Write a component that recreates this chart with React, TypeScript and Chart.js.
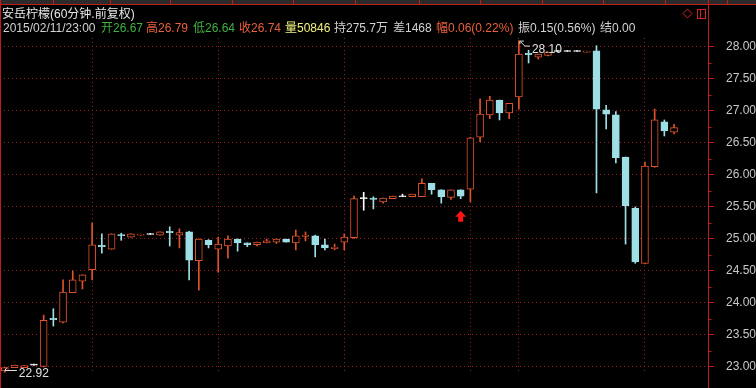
import React, { useEffect, useRef } from 'react';
import { Chart, registerables } from 'chart.js';

Chart.register(...registerables);

// ---- data (60-minute candles, 前复权) ----
const opens = [
  22.94, 22.99, 22.99, 23.03, 23.01, 23.76, 23.70, 24.16, 24.34, 24.52,
  24.90, 24.84, 25.07, 25.03, 25.06, 25.07, 25.06, 25.12, 25.06, 25.11,
  24.66, 24.98, 24.84, 24.89, 25.00, 24.94, 24.91, 24.94, 24.95, 25.00,
  24.94, 25.04, 25.05, 24.91, 24.85, 24.95, 25.02, 25.63, 25.64, 25.58,
  25.63, 25.66, 25.66, 25.66, 25.87, 25.77, 25.65, 25.77, 25.78, 26.59,
  26.94, 27.17, 26.97, 27.22, 27.90, 27.84, 27.87, 27.93, 27.93, 27.93,
  27.92, 27.94, 27.02, 26.94, 26.28, 25.48, 24.62, 26.13, 26.83, 26.67,
];
const highs = [
  22.99, 23.03, 23.02, 23.03, 23.81, 23.91, 24.36, 24.50, 24.44, 25.25,
  25.08, 25.08, 25.09, 25.08, 25.07, 25.07, 25.11, 25.19, 25.16, 25.12,
  25.00, 24.99, 25.03, 25.05, 25.00, 24.94, 24.95, 25.00, 25.00, 25.00,
  25.14, 25.11, 25.06, 25.00, 24.92, 25.08, 25.67, 25.73, 25.66, 25.64,
  25.67, 25.70, 25.70, 25.94, 25.87, 25.77, 25.77, 25.77, 26.59, 27.19,
  27.23, 27.17, 27.12, 28.10, 27.95, 27.89, 27.92, 27.93, 27.93, 27.93,
  27.93, 28.02, 27.09, 26.99, 26.28, 25.50, 26.20, 27.03, 26.86, 26.79,
];
const lows = [
  22.92, 22.99, 22.99, 23.03, 23.00, 23.64, 23.69, 24.16, 24.22, 24.36,
  24.78, 24.84, 24.98, 25.03, 25.06, 25.07, 25.06, 24.89, 24.86, 24.36,
  24.20, 24.86, 24.48, 24.70, 24.81, 24.88, 24.89, 24.94, 24.93, 24.95,
  24.83, 24.97, 24.72, 24.83, 24.83, 24.83, 25.01, 25.45, 25.47, 25.56,
  25.63, 25.66, 25.66, 25.66, 25.70, 25.56, 25.62, 25.63, 25.58, 26.52,
  26.88, 26.86, 26.88, 27.03, 27.75, 27.81, 27.86, 27.93, 27.93, 27.93,
  27.92, 25.72, 26.72, 26.19, 24.92, 24.62, 24.61, 26.12, 26.61, 26.64,
];
const closes = [
  22.99, 23.03, 23.02, 23.03, 23.73, 23.74, 24.17, 24.36, 24.44, 24.91,
  24.88, 25.08, 25.05, 25.08, 25.07, 25.07, 25.11, 25.10, 25.10, 24.67,
  25.00, 24.91, 24.92, 25.00, 24.94, 24.91, 24.95, 24.97, 25.00, 24.95,
  25.05, 25.06, 24.91, 24.86, 24.87, 25.03, 25.63, 25.63, 25.62, 25.64,
  25.67, 25.66, 25.70, 25.87, 25.77, 25.66, 25.77, 25.67, 26.58, 26.95,
  27.17, 26.97, 27.12, 27.89, 27.88, 27.89, 27.92, 27.93, 27.93, 27.93,
  27.93, 27.03, 26.95, 26.27, 25.52, 24.64, 26.14, 26.86, 26.69, 26.74,
];
const blankSlots = 3;
const verticalGridIndices = [9, 22, 35, 48, 53, 66];
const yMin = 22.906;
const yMax = 28.1406;
const yStep = 0.5;
const yMinorStep = 0.25;

const titleText = '安岳柠檬(60分钟.前复权)';
const dateText = '2015/02/11/23:00';
const infoLabels = ['开', '高', '低', '收', '量', '持', '差', '幅', '振', '结'];
const infoValues = ['26.67', '26.79', '26.64', '26.74', '50846', '275.7万', '1468', '0.06(0.22%)', '0.15(0.56%)', '0.00'];
const highLabel = '28.10';
const lowLabel = '22.92';
const signalIndex = 47;

// ---- styles ----
const RED = '#E0532C';
const CYAN = '#9EDFE6';
const WHITE = '#FFFFFF';
const GRID = '#A01E1E';
const AXIS = '#C01C1C';
const TXT = '#D2D2D2';
const GREEN = '#3FB23F';
const ORANGE = '#E8603C';
const YELLOW = '#F2F27E';
const infoColors = [GREEN, ORANGE, GREEN, ORANGE, YELLOW, TXT, TXT, ORANGE, TXT, TXT];
const infoX = [101, 146, 193, 239, 285, 334, 393, 436, 518, 600];
const tabX = [53, 110, 170, 232, 293, 355, 419, 480, 542, 603, 665, 727];
const FONT = "12px 'Liberation Sans', Arial, 'Noto Sans CJK SC', sans-serif";

const dir = (i: number) => (closes[i] > opens[i] ? 1 : closes[i] < opens[i] ? -1 : 0);

const overlayPlugin = {
  id: 'overlay',
  beforeDraw(chart: any) {
    const ctx = chart.ctx;
    ctx.save();
    ctx.fillStyle = '#000';
    ctx.fillRect(0, 0, chart.width, chart.height);
    ctx.restore();
  },
  afterDraw(chart: any) {
    const ctx = chart.ctx as CanvasRenderingContext2D;
    const xs = chart.scales.x;
    const ys = chart.scales.y;
    const area = chart.chartArea;
    ctx.save();

    // top strip
    ctx.fillStyle = '#2B2B2B';
    ctx.fillRect(0, 0, chart.width, 4);
    ctx.strokeStyle = AXIS;
    ctx.lineWidth = 1;
    ctx.beginPath();
    ctx.moveTo(0, 4.5);
    ctx.lineTo(chart.width, 4.5);
    for (const x of tabX) {
      ctx.moveTo(x + 0.5, 0);
      ctx.lineTo(x + 0.5, 4);
    }
    ctx.moveTo(0.5, 0);
    ctx.lineTo(0.5, chart.height);
    const ax = Math.round(area.right) + 0.5;
    ctx.moveTo(ax, 0);
    ctx.lineTo(ax, chart.height);
    ctx.stroke();

    // minor ticks
    ctx.beginPath();
    for (let v = Math.ceil(yMin / yMinorStep) * yMinorStep; v <= yMax; v += yMinorStep) {
      if (Math.abs(v / yStep - Math.round(v / yStep)) < 1e-6) continue;
      const py = Math.round(ys.getPixelForValue(v)) + 0.5;
      ctx.moveTo(ax, py);
      ctx.lineTo(ax + 3, py);
    }
    ctx.stroke();

    // header
    ctx.font = FONT;
    ctx.textBaseline = 'alphabetic';
    ctx.textAlign = 'left';
    ctx.fillStyle = '#E8E8E8';
    ctx.fillText(titleText, 2, 18);
    ctx.fillStyle = TXT;
    ctx.fillText(dateText, 3, 32);
    infoLabels.forEach((lab, k) => {
      ctx.fillStyle = infoColors[k];
      ctx.fillText(lab + infoValues[k], infoX[k], 32);
    });

    // icons top right
    ctx.strokeStyle = '#D02424';
    ctx.beginPath();
    ctx.moveTo(687.5, 9);
    ctx.lineTo(692, 13.5);
    ctx.lineTo(687.5, 18);
    ctx.lineTo(683, 13.5);
    ctx.closePath();
    ctx.stroke();
    ctx.strokeRect(697.5, 9.5, 8, 9);
    ctx.beginPath();
    ctx.moveTo(700.5, 9.5);
    ctx.lineTo(700.5, 18.5);
    ctx.stroke();

    // high / low markers
    let hi = 0;
    let lo = 0;
    highs.forEach((h, i) => { if (h > highs[hi]) hi = i; });
    lows.forEach((l, i) => { if (l < lows[lo]) lo = i; });
    const hx = xs.getPixelForValue(hi);
    const hy = ys.getPixelForValue(highs[hi]);
    ctx.strokeStyle = '#E0E0E0';
    ctx.beginPath();
    ctx.moveTo(hx + 1, hy + 0.5);
    ctx.lineTo(hx + 1, hy + 3.5);
    ctx.moveTo(hx + 1, hy + 0.5);
    ctx.lineTo(hx + 5, hy + 0.5);
    ctx.moveTo(hx + 1.5, hy + 1);
    ctx.lineTo(hx + 6, hy + 5.5);
    ctx.lineTo(hx + 11, hy + 5.5);
    ctx.stroke();
    ctx.fillStyle = '#E0E0E0';
    ctx.fillText(highLabel, hx + 13, hy + 12);

    const lx = xs.getPixelForValue(lo);
    const ly = Math.round(ys.getPixelForValue(lows[lo])) - 1.5;
    ctx.beginPath();
    ctx.moveTo(lx, ly);
    ctx.lineTo(lx + 12, ly);
    ctx.moveTo(lx, ly);
    ctx.lineTo(lx + 2, ly - 3);
    ctx.stroke();
    ctx.fillText(lowLabel, lx + 14, ys.getPixelForValue(lows[lo]) + 5);

    // buy signal arrow
    const sx = xs.getPixelForValue(signalIndex);
    const sy = ys.getPixelForValue(lows[signalIndex]) + 12;
    ctx.fillStyle = '#FF1414';
    ctx.beginPath();
    ctx.moveTo(sx, sy);
    ctx.lineTo(sx + 5.5, sy + 6);
    ctx.lineTo(sx + 2.5, sy + 6);
    ctx.lineTo(sx + 2.5, sy + 11);
    ctx.lineTo(sx - 2.5, sy + 11);
    ctx.lineTo(sx - 2.5, sy + 6);
    ctx.lineTo(sx - 5.5, sy + 6);
    ctx.closePath();
    ctx.fill();

    ctx.restore();
  },
};

export default function App() {
  const ref = useRef<HTMLCanvasElement>(null);
  useEffect(() => {
    const n = opens.length;
    const labels = Array.from({ length: n + blankSlots }, (_, i) => String(i + 1));
    const bodyBg = opens.map((_, i) => (dir(i) > 0 ? '#000000' : dir(i) < 0 ? CYAN : WHITE));
    const bodyBorder = opens.map((_, i) => (dir(i) > 0 ? RED : dir(i) < 0 ? CYAN : WHITE));
    const chart = new Chart(ref.current as HTMLCanvasElement, {
      type: 'bar',
      data: {
        labels,
        datasets: [
          {
            data: opens.map((o, i) => [o, closes[i]]) as any,
            backgroundColor: bodyBg,
            borderColor: bodyBorder,
            borderWidth: 1,
            borderSkipped: false,
            barThickness: 7,
            minBarLength: 1,
            grouped: false,
            order: 0,
          } as any,
          {
            data: lows.map((l, i) => [l, highs[i]]) as any,
            backgroundColor: bodyBorder,
            borderWidth: 0,
            barThickness: 1,
            minBarLength: 1,
            grouped: false,
            order: 1,
          } as any,
        ],
      },
      options: {
        animation: false,
        responsive: false,
        devicePixelRatio: 1,
        events: [],
        layout: { padding: { top: 38, bottom: 15, left: 0, right: 0 } },
        plugins: { legend: { display: false }, tooltip: { enabled: false }, title: { display: false } },
        scales: {
          x: {
            type: 'category',
            offset: true,
            grid: {
              offset: false,
              drawTicks: false,
              lineWidth: 1,
              color: (c: any) => (verticalGridIndices.includes(c.index) ? GRID : 'rgba(0,0,0,0)'),
            },
            border: { display: false, dash: [1, 3] },
            ticks: { display: false, autoSkip: false, padding: 0 },
            afterFit: (s: any) => { s.height = 0; },
          },
          y: {
            type: 'linear',
            position: 'right',
            min: yMin,
            max: yMax,
            afterFit: (s: any) => {
              s.width = 48;
              s.paddingTop = 0;
              s.paddingBottom = 0;
            },
            afterBuildTicks: (s: any) => {
              s.ticks = s.ticks.filter((t: any) => Math.abs(t.value / yStep - Math.round(t.value / yStep)) < 1e-6);
            },
            ticks: {
              stepSize: yStep,
              includeBounds: false,
              color: '#C8C8C8',
              padding: 12,
              font: { family: "'Liberation Sans', Arial, sans-serif", size: 12 },
              callback: (v: any) => Number(v).toFixed(2),
            },
            grid: { color: GRID, tickColor: AXIS, tickLength: 6, lineWidth: 1 },
            border: { display: false, dash: [1, 3] },
          },
        },
      },
      plugins: [overlayPlugin],
    } as any);
    return () => chart.destroy();
  }, []);
  return (
    <div style={{ position: 'absolute', left: 0, top: 0, width: 756, height: 388, background: '#000' }}>
      <canvas ref={ref} width={756} height={388} style={{ display: 'block', width: 756, height: 388 }} />
    </div>
  );
}
